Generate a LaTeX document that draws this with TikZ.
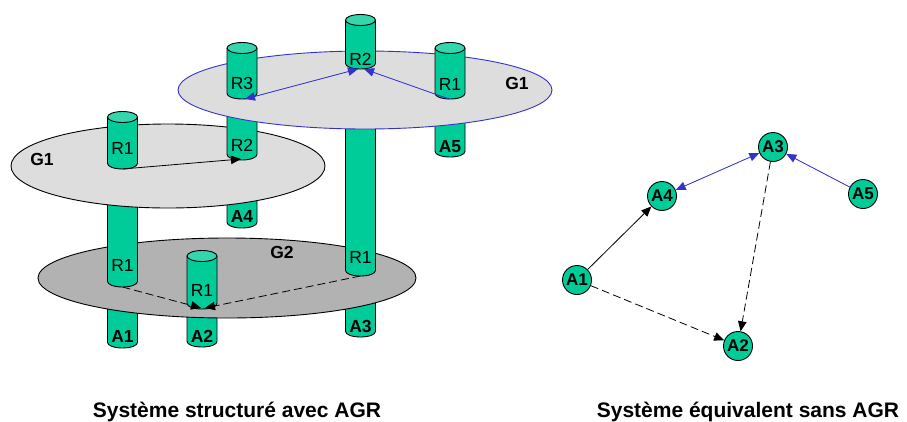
\documentclass[tikz,border=0pt]{standalone}
\usepackage{fontspec}
\setmainfont{Liberation Sans}
\usetikzlibrary{arrows.meta}

\definecolor{agentgreen}{RGB}{0,204,153}
\definecolor{capgreen}{RGB}{51,214,173}
\definecolor{groupgray}{RGB}{221,221,221}
\definecolor{darkgroup}{RGB}{178,178,178}
\definecolor{linkblue}{RGB}{51,51,204}

% body of an agent pipe: x centre, hidden/top y, y of bottom rim centre
\newcommand\agentpipe[3]{%
  \filldraw[pipe] (#1-15,#2) -- (#1-15,#3)
    arc[start angle=180,end angle=360,x radius=15pt,y radius=5.5pt] -- (#1+15,#2);}
% visible top cap of a pipe
\newcommand\agentcap[2]{%
  \filldraw[pipe,fill=capgreen] (#1,#2) ellipse[x radius=15pt,y radius=5.5pt];}

\tikzset{
  pipe/.style={draw=black,fill=agentgreen,line width=0.9pt},
  rolelab/.style={inner sep=0pt,font=\fontsize{17.5}{19}\selectfont},
  agentlab/.style={inner sep=0pt,font=\fontsize{17.5}{19}\selectfont\bfseries},
  grouplab/.style={inner sep=0pt,font=\fontsize{17.5}{19}\selectfont\bfseries},
  caption/.style={inner sep=0pt,anchor=base,font=\fontsize{21}{24}\selectfont\bfseries},
  tip/.tip={Triangle[length=10pt,width=8.5pt]},
  solidlink/.style={draw=black,line width=0.8pt,-tip},
  dashlink/.style={draw=black,line width=0.8pt,dash pattern=on 8pt off 4pt,-tip},
  bluelink/.style={draw=linkblue,fill=linkblue,line width=0.8pt,-tip},
  agentnode/.style={circle,draw=black,fill=agentgreen,line width=0.9pt,
    minimum size=29pt,inner sep=0pt,font=\fontsize{17}{18}\selectfont\bfseries},
}

\begin{document}
\begin{tikzpicture}[x=1pt,y=-1pt]
\useasboundingbox (0,0) rectangle (907,421);

% ---------- level G2 ----------
% agent ends below G2
\agentpipe{122.5}{290}{342.5}
\agentpipe{202}{300}{341.5}
\agentpipe{360.5}{290}{331.5}
\node[agentlab] (la1) at (122.5,336) {A1};
\node[agentlab] (la2) at (202,336) {A2};
\node[agentlab] (la3) at (360.5,326) {A3};
% group disc G2
\filldraw[draw=black,fill=darkgroup,line width=0.9pt] (227,278) ellipse[x radius=189pt,y radius=40pt];
% roles in G2
\agentpipe{122.5}{180}{281.5}
\agentpipe{202}{256}{303.5}
\agentcap{202}{256}
\agentpipe{360.5}{100}{270.5}
\node[rolelab] (g2r1a) at (122.5,265) {R1};
\node[rolelab] (g2r1b) at (202,290) {R1};
\node[rolelab] (g2r1c) at (360.5,257) {R1};
\node[grouplab] (g2name) at (282,252) {G2};
\coordinate (g2from1) at (122.5,287);
\coordinate (g2from3) at (360.5,276);
\coordinate (g2toL) at (201,308);
\coordinate (g2toR) at (205,308);
\draw[dashlink] (g2from1) -- (g2toL);
\draw[dashlink] (g2from3) -- (g2toR);

% ---------- left level G1 ----------
\agentpipe{242}{180}{222.5}
\node[agentlab] (la4) at (242,216) {A4};
\filldraw[draw=black,fill=groupgray,line width=0.9pt] (168,166) ellipse[x radius=157pt,y radius=42pt];
\agentpipe{122.5}{117}{163.5}
\agentcap{122.5}{117}
\agentpipe{242}{110}{154.5}
\node[rolelab] (lg1r1) at (122.5,148) {R1};
\node[rolelab] (lg1r2) at (242,145) {R2};
\node[grouplab] (lg1name) at (42,159) {G1};
\coordinate (lg1from) at (122.5,169);
\coordinate (lg1to) at (241,159);
\draw[solidlink] (lg1from) -- (lg1to);

% ---------- upper level G1 ----------
\agentpipe{450}{110}{151.5}
\node[agentlab] (la5) at (450,147) {A5};
\filldraw[draw=linkblue,fill=groupgray,line width=0.9pt] (365,90) ellipse[x radius=187pt,y radius=39pt];
\agentpipe{242}{48}{93.5}
\agentcap{242}{48}
\agentpipe{360.5}{20}{63.5}
\agentcap{360.5}{20}
\agentpipe{450}{48}{93.5}
\agentcap{450}{48}
\node[rolelab] (ug1r3) at (242,83) {R3};
\node[rolelab] (ug1r2) at (360.5,59) {R2};
\node[rolelab] (ug1r1) at (450,84) {R1};
\node[grouplab] (ug1name) at (517,83) {G1};
\coordinate (ug1r3b) at (245,99);
\coordinate (ug1r2l) at (358,69);
\coordinate (ug1r2r) at (364,69);
\coordinate (ug1r1b) at (449,99);
\draw[bluelink,tip-tip] (ug1r3b) -- (ug1r2l);
\draw[bluelink] (ug1r1b) -- (ug1r2r);

% ---------- equivalent flat system ----------
\node[agentnode] (n1) at (577,280) {A1};
\node[agentnode] (n2) at (738,346) {A2};
\node[agentnode] (n3) at (773,147) {A3};
\node[agentnode] (n4) at (662,196) {A4};
\node[agentnode] (n5) at (863,194) {A5};
\draw[solidlink] (n1) -- (n4);
\draw[bluelink,tip-tip] (n4) -- (n3);
\draw[bluelink] (n5) -- (n3);
\draw[dashlink] (n1) -- (n2);
\draw[dashlink] (n3) -- (n2);

% ---------- captions ----------
\node[caption] (capleft) at (237,417) {Système structuré avec AGR};
\node[caption] (capright) at (748,417) {Système équivalent sans AGR};
\end{tikzpicture}
\end{document}
